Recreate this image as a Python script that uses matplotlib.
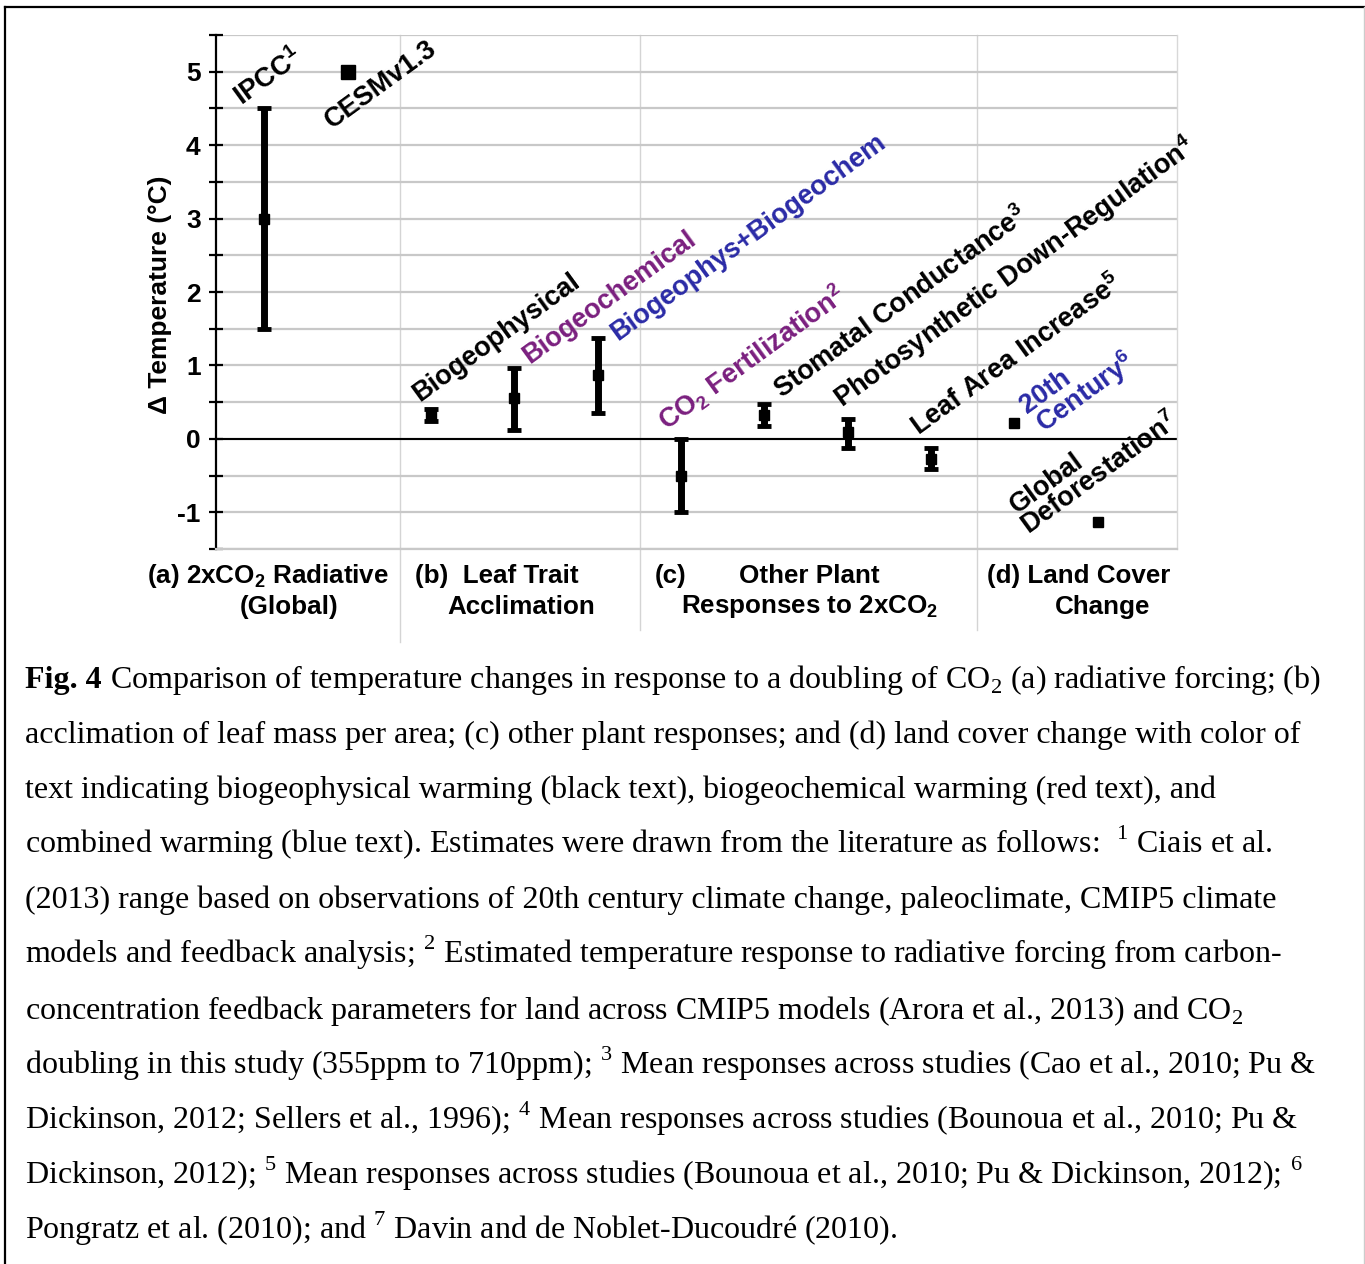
import matplotlib
matplotlib.use('Agg')
import matplotlib.pyplot as plt
import numpy as np
from matplotlib.lines import Line2D

plt.rcParams['font.family'] = ['Liberation Sans', 'DejaVu Sans']
plt.rcParams['mathtext.fontset'] = 'custom'
plt.rcParams['mathtext.rm'] = 'Liberation Sans'
plt.rcParams['mathtext.bf'] = 'Liberation Sans:bold'
plt.rcParams['axes.unicode_minus'] = False

# ---------------- data ----------------
err_x = [1, 3, 4, 5, 6, 7, 8, 9]
err_low = [1.5, 0.24, 0.12, 0.35, -1.0, 0.18, -0.12, -0.41]
err_mid = [3.0, 0.32, 0.55, 0.87, -0.5, 0.33, 0.09, -0.27]
err_high = [4.5, 0.41, 0.97, 1.38, 0.0, 0.48, 0.27, -0.12]

pt_x = [2, 10, 11]
pt_y = [5.0, 0.21, -1.13]
pt_size = [10, 7, 7]

PURPLE = '#7a1f7e'
BLUE = '#2a2aa6'

labels = [
    ('IPCC$^{\\mathdefault{1}}$', 0.648, 4.587, 'black'),
    ('CESMv1.3', 1.728, 4.27, 'black'),
    ('Biogeophysical', 2.772, 0.557, 'black'),
    ('Biogeochemical', 4.092, 1.075, PURPLE),
    ('Biogeophys+Biogeochem', 5.148, 1.388, BLUE),
    ('CO$_{\\mathdefault{2}}$ Fertilization$^{\\mathdefault{2}}$', 5.748, 0.148, PURPLE),
    ('Stomatal Conductance$^{\\mathdefault{3}}$', 7.128, 0.598, 'black'),
    ('Photosynthetic Down-Regulation$^{\\mathdefault{4}}$', 7.848, 0.462, 'black'),
    ('Leaf Area Increase$^{\\mathdefault{5}}$', 8.772, 0.094, 'black'),
    ('20th', 10.068, 0.394, BLUE),
    ('Century$^{\\mathdefault{6}}$', 10.272, 0.121, BLUE),
    ('Global', 9.948, -0.966, 'black'),
    ('Deforestation$^{\\mathdefault{7}}$', 10.092, -1.266, 'black'),
]
label_dx, label_dy = 0.085, -0.055

sep_x = [2.63, 5.51, 9.55]
sep_bottom_px = [642, 630, 630]

group_labels = [
    ('(a) 2xCO$_{\\mathdefault{2}}$ Radiative', 147, 576),
    ('(Global)', 240, 607),
    ('(b)  Leaf Trait', 415, 576),
    ('Acclimation', 447, 607),
    ('(c)', 655, 576),
    ('Other Plant', 739, 576),
    ('Responses to 2xCO$_{\\mathdefault{2}}$', 681, 607),
    ('(d) Land Cover', 987, 576),
    ('Change', 1055, 607),
]

caption_rest = [
    ' Comparison of temperature changes in response to a doubling of CO$_{\\mathdefault{2}}$ (a) radiative forcing; (b)',
    'acclimation of leaf mass per area; (c) other plant responses; and (d) land cover change with color of',
    'text indicating biogeophysical warming (black text), biogeochemical warming (red text), and',
    'combined warming (blue text). Estimates were drawn from the literature as follows:  $^{\\mathdefault{1}}$ Ciais et al.',
    '(2013) range based on observations of 20th century climate change, paleoclimate, CMIP5 climate',
    'models and feedback analysis; $^{\\mathdefault{2}}$ Estimated temperature response to radiative forcing from carbon-',
    'concentration feedback parameters for land across CMIP5 models (Arora et al., 2013) and CO$_{\\mathdefault{2}}$',
    'doubling in this study (355ppm to 710ppm); $^{\\mathdefault{3}}$ Mean responses across studies (Cao et al., 2010; Pu &',
    'Dickinson, 2012; Sellers et al., 1996); $^{\\mathdefault{4}}$ Mean responses across studies (Bounoua et al., 2010; Pu &',
    'Dickinson, 2012); $^{\\mathdefault{5}}$ Mean responses across studies (Bounoua et al., 2010; Pu & Dickinson, 2012); $^{\\mathdefault{6}}$',
    'Pongratz et al. (2010); and $^{\\mathdefault{7}}$ Davin and de Noblet-Ducoudr\u00e9 (2010).',
]

# ---------------- figure ----------------
W, H = 1365, 1264
fig = plt.figure(figsize=(W / 100, H / 100), dpi=100)


def fx(px):
    return px / W


def fy(py):
    return 1 - py / H


ax = fig.add_axes([fx(216), fy(549), (1177 - 216) / W, (549 - 35) / H])
ax.set_xlim(0.42, 11.95)
ax.set_ylim(-1.5, 5.5)

ax.set_yticks(range(-1, 6))
ax.set_yticks(np.arange(-1.5, 5.51, 0.5), minor=True)
ax.set_xticks([])
ax.grid(axis='y', which='both', color='#c8c8c8', lw=1.6, zorder=0)
ax.set_axisbelow(True)
ax.tick_params(axis='y', which='both', direction='inout', length=10, width=1.6,
               color='black', pad=6, labelsize=19)
for lbl in ax.get_yticklabels():
    lbl.set_fontweight('bold')

ax.spines['left'].set_color('black')
ax.spines['left'].set_linewidth(1.6)
ax.spines['top'].set_visible(False)
ax.spines['right'].set_color('#d8d8d8')
ax.spines['right'].set_linewidth(1.0)
ax.spines['bottom'].set_color('#c8c8c8')
ax.spines['bottom'].set_linewidth(1.6)

ax.axhline(0, color='black', lw=1.5, zorder=2)

for sx, bpx in zip(sep_x, sep_bottom_px):
    ax.plot([sx, sx], [1, -(bpx - 549) / 514], transform=ax.get_xaxis_transform(),
            color='#d4d4d4', lw=1.0, clip_on=False, zorder=0.5)

yerr = [np.array(err_mid) - np.array(err_low), np.array(err_high) - np.array(err_mid)]
ax.errorbar(err_x, err_mid, yerr=yerr, fmt='s', color='black', ms=6.5,
            elinewidth=5, capsize=5, capthick=3.5, zorder=3)
for x, y, s in zip(pt_x, pt_y, pt_size):
    ax.plot(x, y, 's', color='black', ms=s, zorder=3)

for txt, x, y, c in labels:
    ax.text(x + label_dx, y + label_dy, txt, rotation=36, rotation_mode='anchor',
            ha='left', va='baseline', fontsize=19.5, fontweight='bold', color=c, zorder=4)

fig.text(fx(160), fy(295), '\u0394 Temperature (\u00b0C)', rotation=90, ha='center',
         va='center', fontsize=19, fontweight='bold')

for txt, px, py in group_labels:
    fig.text(fx(px), fy(py), txt, ha='left', va='center', fontsize=18.7, fontweight='bold')

# caption
cap_fs = 23
serif = ['Liberation Serif', 'DejaVu Serif']
renderer = fig.canvas.get_renderer()
t0 = fig.text(fx(25), fy(688), 'Fig. 4', family=serif, fontweight='bold', fontsize=cap_fs,
              ha='left', va='baseline')
x1 = t0.get_window_extent(renderer).x1
for i, line in enumerate(caption_rest):
    xs = fx(x1) if i == 0 else fx(25)
    fig.text(xs, fy(688 + 55.1 * i), line, family=serif, fontsize=cap_fs,
             ha='left', va='baseline')

# border
fig.add_artist(Line2D([fx(5), fx(1364)], [fy(7), fy(7)], color='black', lw=1.6,
                      transform=fig.transFigure))
fig.add_artist(Line2D([fx(5), fx(5)], [fy(7), 0], color='black', lw=1.6,
                      transform=fig.transFigure))
fig.add_artist(Line2D([fx(1364), fx(1364)], [fy(7), 0], color='#cccccc', lw=1.0,
                      transform=fig.transFigure))

fig.savefig('out.png', dpi=100)
